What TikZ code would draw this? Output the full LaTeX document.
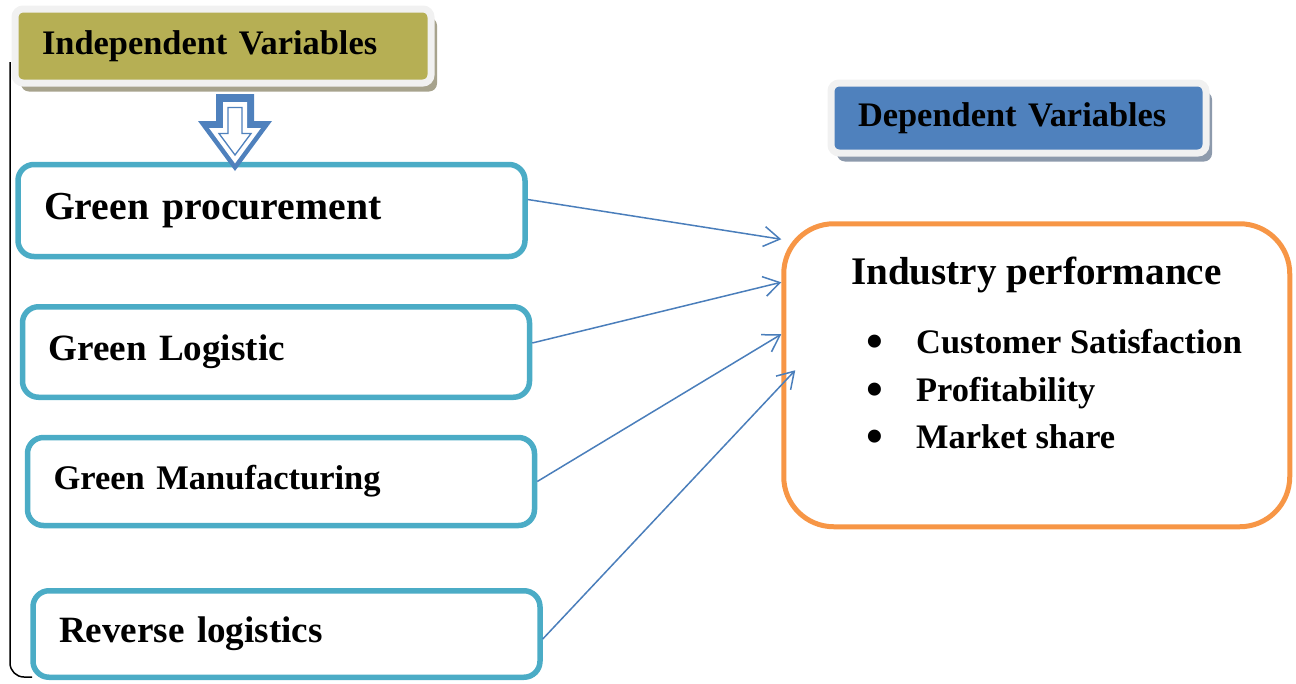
\documentclass[tikz,border=0pt]{standalone}
\usepackage{fontspec}
\setmainfont{Liberation Serif}
\usepackage{tikz}
\usetikzlibrary{positioning,shadows,arrows.meta}

\definecolor{olivebar}{HTML}{B6AF54}
\definecolor{oliveshade}{HTML}{A7A38D}
\definecolor{depblue}{HTML}{4F81BD}
\definecolor{blueshade}{HTML}{8D9AAC}
\definecolor{framegrey}{HTML}{F1F1F1}
\definecolor{tealline}{HTML}{4BACC6}
\definecolor{orangeline}{HTML}{F79646}
\definecolor{arrowblue}{HTML}{4A7EBB}

\tikzstyle{headbox} = [rectangle, rounded corners=8pt, draw=framegrey, line width=7pt, inner xsep=27pt, inner ysep=0pt, align=left, font=\fontsize{34.4}{40}\selectfont\bfseries]
\tikzstyle{varbox} = [rectangle, rounded corners=16pt, draw=tealline, line width=5.5pt, fill=white, text width=455pt, inner xsep=26pt, align=left]
\tikzstyle{perfbox} = [rectangle, rounded corners=50pt, draw=orangeline, line width=5pt, fill=white, minimum width=506pt, minimum height=303pt]
\tikzstyle{item} = [anchor=base west, inner sep=0pt, font=\fontsize{34.4}{40}\selectfont\bfseries]
\tikzstyle{connect1} = [draw=arrowblue, line width=1.5pt, -{Straight Barb[length=16pt,width=20pt]}]
\newcommand{\itemdot}{\makebox[50pt][l]{\fontsize{48}{48}\selectfont\raisebox{-4pt}{•}}}

\begin{document}
\begin{tikzpicture}[x=1pt, y=-1pt]
			\useasboundingbox (0,0) rectangle (1296,683);

			% garis kurung di sisi kiri
			\draw [line width=1.5pt, rounded corners=14pt] (10,62) -- (10,677) -- (32,677);

			% judul variabel
			\node (indep) [headbox, fill=olivebar, text width=362pt, minimum height=74pt,
				drop shadow={shadow xshift=6pt, shadow yshift=-8.5pt, fill=oliveshade, opacity=1}] at (223,46) {Independent Variables};
			\node (dep) [headbox, fill=depblue, text width=321pt, minimum height=70pt,
				drop shadow={shadow xshift=6pt, shadow yshift=-8.5pt, fill=blueshade, opacity=1}] at (1018.5,118) {Dependent Variables};

			% variabel bebas
			\node (proc) [varbox, minimum height=92pt, font=\fontsize{39.7}{44}\selectfont\bfseries] at (271.5,210.5) {Green procurement};
			\node (logi) [varbox, minimum height=90.5pt, font=\fontsize{37.1}{42}\selectfont\bfseries] at (276,352) {Green Logistic};
			\node (manu) [varbox, minimum height=88pt, font=\fontsize{34.5}{40}\selectfont\bfseries] at (281,481.5) {Green Manufacturing};
			\node (rev) [varbox, minimum height=86.5pt, font=\fontsize{37.1}{42}\selectfont\bfseries] at (286.5,634) {Reverse logistics};

			% variabel terikat
			\node (perf) [perfbox] at (1036.75,375.25) {};
			\node (perftitle) [item, font=\fontsize{39.1}{45}\selectfont\bfseries] at (851,284) {Industry performance};
			\node (sat) [item] at (866,353) {\itemdot Customer Satisfaction};
			\node (prof) [item] at (866,401) {\itemdot Profitability};
			\node (share) [item] at (866,448) {\itemdot Market share};

			% panah blok ke bawah
			\fill [depblue] (216,94) -- (254,94) -- (254,121) -- (272,121) -- (235,171) -- (198,121) -- (216,121) -- cycle;
			\draw [white, fill=white, line width=4pt, line join=miter] (225,104) -- (245,104) -- (245,130) -- (257,130) -- (235,160) -- (213,130) -- (225,130) -- cycle;
			\draw [depblue, fill=white, line width=1.3pt] (228,107.5) -- (242,107.5) -- (242,133.5) -- (251,133.5) -- (235,155) -- (219,133.5) -- (228,133.5) -- cycle;

			% garis koneksi
			\draw [connect1] ([yshift=11pt]proc.east) -- ([yshift=-18pt]perf.north west);
			\draw [connect1] ([yshift=9pt]logi.east) -- ([yshift=-61pt]perf.north west);
			\draw [connect1] (manu.east) -- ([yshift=-113pt]perf.north west);
			\draw [connect1] ([yshift=-5pt]rev.east) -- ([xshift=14pt,yshift=-149pt]perf.north west);
		\end{tikzpicture}
\end{document}
